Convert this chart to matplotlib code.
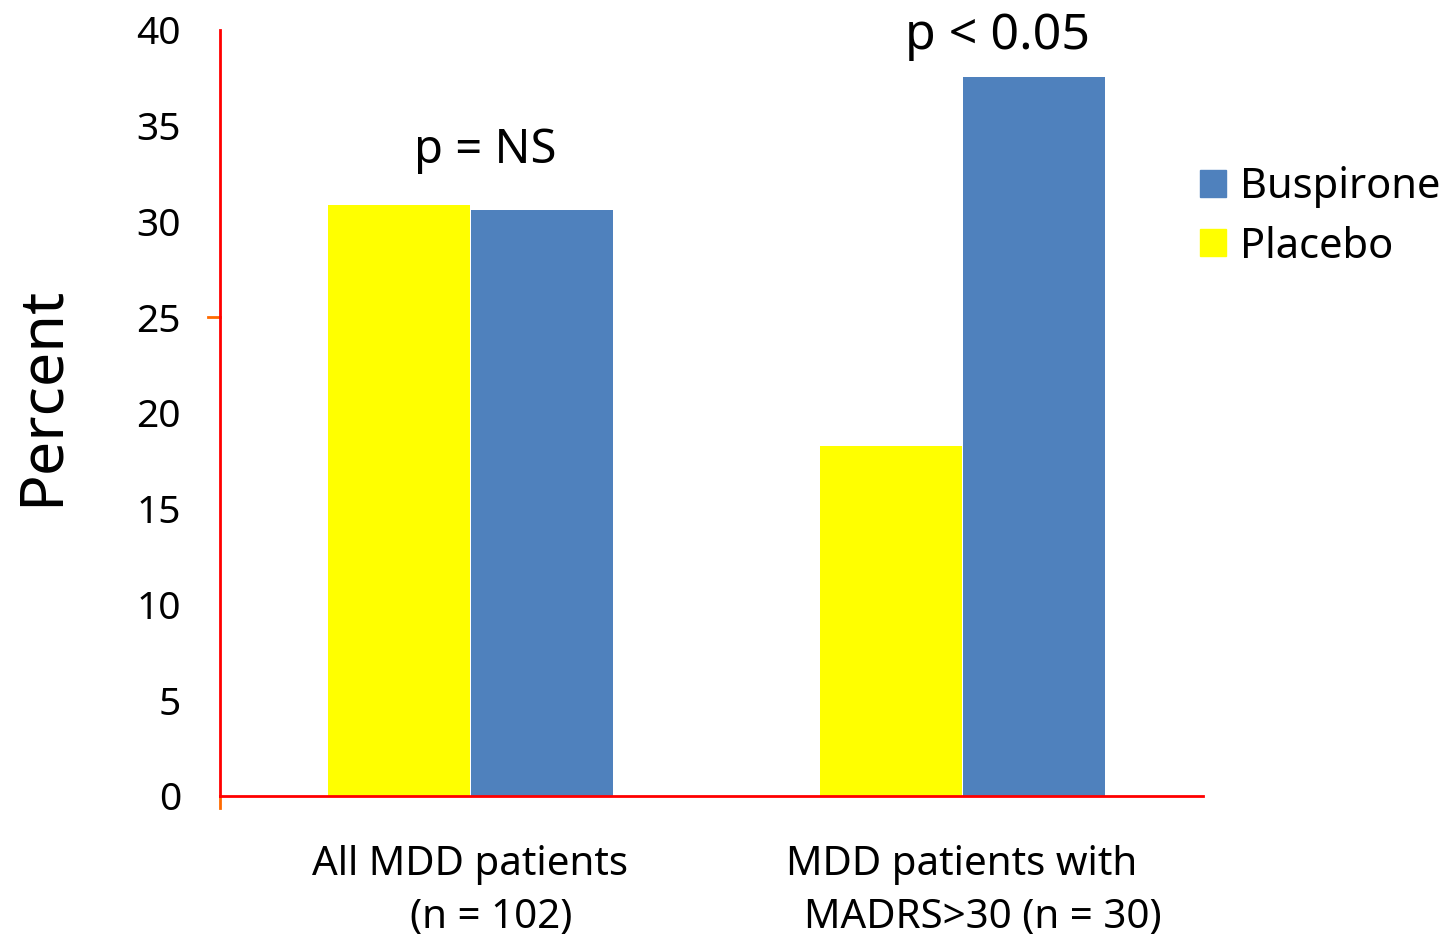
import matplotlib
matplotlib.use("Agg")
import matplotlib.pyplot as plt
import numpy as np
from matplotlib.patches import Patch

categories = ["All MDD patients\n    (n = 102)", "MDD patients with\n    MADRS>30 (n = 30)"]
placebo = [30.85, 18.3]
buspirone = [30.6, 37.55]
yticks = [0, 5, 10, 15, 20, 25, 30, 35, 40]
annotations = ["p = NS", "p < 0.05"]

plt.rcParams['font.family'] = ['Noto Sans', 'DejaVu Sans']

fig = plt.figure(figsize=(14.52, 9.39), dpi=100)
ax = fig.add_axes([220/1452, 1-796/939, (1203-220)/1452, (796-30)/939])

x = np.arange(len(categories))
w = 0.289
ax.bar(x - w/2, placebo, width=w, color='#FFFF00', label='Placebo')
ax.bar(x + w/2 + 0.002, buspirone, width=w, color='#4F81BD', label='Buspirone')

ax.set_xlim(-0.509, 1.491)
ax.set_ylim(0, 40)
ax.set_yticks(yticks)
ax.set_yticklabels([str(t) for t in yticks], fontsize=28)
ax.tick_params(axis='y', length=0, pad=28)
ax.set_xticks(x)
ax.set_xticklabels(categories, fontsize=29, linespacing=1.43)
ax.tick_params(axis='x', length=0, pad=35)

for s in ['top', 'right']:
    ax.spines[s].set_visible(False)
for s in ['left', 'bottom']:
    ax.spines[s].set_color('#FF0000')
    ax.spines[s].set_linewidth(2)

# small orange tick marks
ax.plot([-0.012, 0], [25, 25], transform=ax.get_yaxis_transform(), color='#FF6A00', lw=2, clip_on=False)
ax.plot([0, 0], [0, -12/766], transform=ax.transAxes, color='#FF6A00', lw=2, clip_on=False)

ax.set_ylabel('Percent', fontsize=44)
ax.yaxis.set_label_coords(-147/983, 0.522)

ax.text(0.03, 33.7, annotations[0], fontsize=34, ha='center', va='center')
ax.text(1.072, 39.7, annotations[1], fontsize=36, ha='center', va='center', clip_on=False)

handles = [Patch(color='#4F81BD'), Patch(color='#FFFF00')]
fig.legend(handles, ['Buspirone', 'Placebo'], loc='upper left',
           bbox_to_anchor=(1200/1452, 1-166/939), frameon=False, fontsize=30,
           handlelength=0.62, handleheight=0.62, handletextpad=0.34, labelspacing=0.42,
           borderpad=0, borderaxespad=0)

fig.savefig('out.png', dpi=100)
